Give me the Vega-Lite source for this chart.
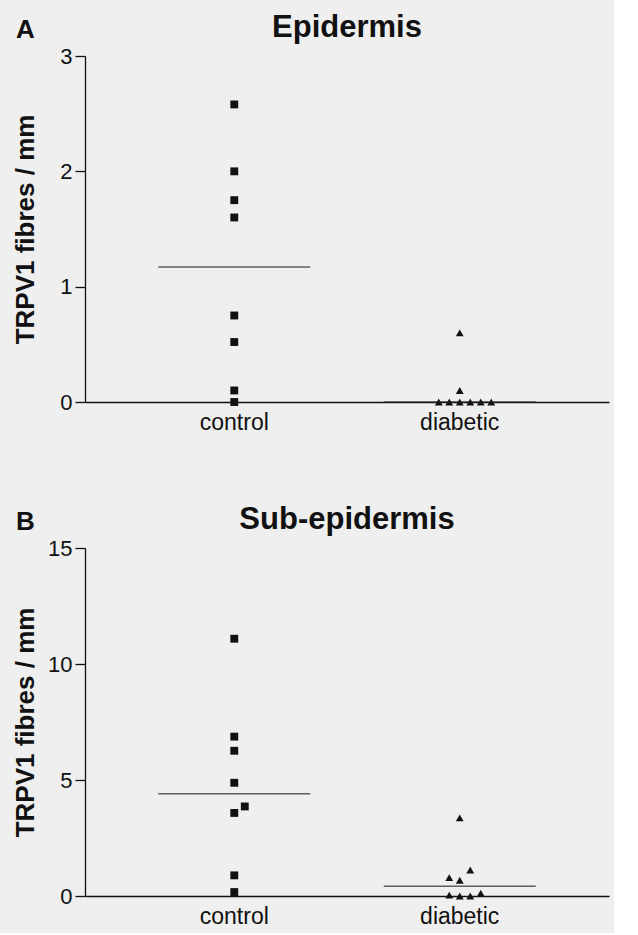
{
  "$schema": "https://vega.github.io/schema/vega-lite/v6.json",
  "background": "#efefef",
  "padding": {"left": 12, "top": 12, "right": 5, "bottom": 5},
  "spacing": 70,
  "config": {
    "font": "Liberation Sans",
    "view": {"stroke": null},
    "axis": {"grid": false, "domainColor": "#111", "tickColor": "#111", "labelColor": "#111", "titleColor": "#111", "labelFont": "Liberation Sans", "titleFont": "Liberation Sans", "domainWidth": 1.3, "tickWidth": 1.3},
    "title": {"font": "Liberation Sans", "color": "#111", "fontWeight": "bold"}
  },
  "datasets": {
    "pts": [
      {"panel": "A", "group": "control", "v": 2.58, "col": 0},
      {"panel": "A", "group": "control", "v": 2.0, "col": 0},
      {"panel": "A", "group": "control", "v": 1.75, "col": 0},
      {"panel": "A", "group": "control", "v": 1.6, "col": 0},
      {"panel": "A", "group": "control", "v": 0.75, "col": 0},
      {"panel": "A", "group": "control", "v": 0.52, "col": 0},
      {"panel": "A", "group": "control", "v": 0.1, "col": 0},
      {"panel": "A", "group": "control", "v": 0.0, "col": 0},
      {"panel": "A", "group": "diabetic", "v": 0.6, "col": 0},
      {"panel": "A", "group": "diabetic", "v": 0.1, "col": 0},
      {"panel": "A", "group": "diabetic", "v": 0.0, "col": -2},
      {"panel": "A", "group": "diabetic", "v": 0.0, "col": -1},
      {"panel": "A", "group": "diabetic", "v": 0.0, "col": 0},
      {"panel": "A", "group": "diabetic", "v": 0.0, "col": 1},
      {"panel": "A", "group": "diabetic", "v": 0.0, "col": 2},
      {"panel": "A", "group": "diabetic", "v": 0.0, "col": 3},
      {"panel": "B", "group": "control", "v": 11.09, "col": 0},
      {"panel": "B", "group": "control", "v": 6.87, "col": 0},
      {"panel": "B", "group": "control", "v": 6.26, "col": 0},
      {"panel": "B", "group": "control", "v": 4.88, "col": 0},
      {"panel": "B", "group": "control", "v": 3.86, "col": 1},
      {"panel": "B", "group": "control", "v": 3.58, "col": 0},
      {"panel": "B", "group": "control", "v": 0.89, "col": 0},
      {"panel": "B", "group": "control", "v": 0.17, "col": 0},
      {"panel": "B", "group": "diabetic", "v": 3.37, "col": 0},
      {"panel": "B", "group": "diabetic", "v": 1.12, "col": 1},
      {"panel": "B", "group": "diabetic", "v": 0.79, "col": -1},
      {"panel": "B", "group": "diabetic", "v": 0.68, "col": 0},
      {"panel": "B", "group": "diabetic", "v": 0.04, "col": -1},
      {"panel": "B", "group": "diabetic", "v": 0.0, "col": 0},
      {"panel": "B", "group": "diabetic", "v": 0.0, "col": 1},
      {"panel": "B", "group": "diabetic", "v": 0.12, "col": 2}
    ],
    "means": [
      {"panel": "A", "group": "control", "v": 1.17},
      {"panel": "A", "group": "diabetic", "v": 0.0},
      {"panel": "B", "group": "control", "v": 4.41},
      {"panel": "B", "group": "diabetic", "v": 0.42}
    ]
  },
  "vconcat": [
    {
      "title": {"text": "A", "anchor": "start", "frame": "bounds", "fontSize": 26, "offset": -31, "dx": 4},
      "vconcat": [
        {
          "width": 524,
          "height": 346,
          "title": {"text": "Epidermis", "fontSize": 31, "anchor": "middle", "offset": 1},
          "encoding": {
            "x": {"field": "group", "type": "nominal", "scale": {"domain": ["control", "diabetic"], "paddingInner": 0, "paddingOuter": 0.162},
                  "axis": {"title": null, "ticks": false, "labelAngle": 0, "labelFontSize": 23, "labelPadding": 9}}
          },
          "layer": [
            {
              "data": {"name": "pts"},
              "transform": [{"filter": "datum.panel === 'A'"}],
              "mark": {"type": "point", "filled": true, "opacity": 1, "color": "#111", "size": 62},
              "encoding": {
                "y": {"field": "v", "type": "quantitative", "scale": {"domain": [0, 3], "nice": false},
                      "axis": {"title": "TRPV1 fibres / mm", "values": [0, 1, 2, 3], "format": "d", "titleFontSize": 26, "labelFontSize": 22, "tickSize": 10, "labelPadding": 3, "minExtent": 38, "maxExtent": 38, "titlePadding": 9}},
                "shape": {"field": "group", "type": "nominal", "scale": {"domain": ["control", "diabetic"], "range": ["square", "triangle-up"]}, "legend": null},
                "xOffset": {"field": "col", "type": "quantitative", "scale": {"domain": [-3, 3], "range": [81.25, 144.25]}}
              }
            },
            {
              "data": {"name": "means"},
              "transform": [{"filter": "datum.panel === 'A'"}],
              "mark": {"type": "tick", "size": 152, "thickness": 1.5, "color": "#222"},
              "encoding": {"y": {"field": "v", "type": "quantitative"}}
            }
          ]
        }
      ]
    },
    {
      "title": {"text": "B", "anchor": "start", "frame": "bounds", "fontSize": 26, "offset": -31, "dx": 4},
      "vconcat": [
        {
          "width": 524,
          "height": 348,
          "title": {"text": "Sub-epidermis", "fontSize": 31, "anchor": "middle", "offset": 1},
          "encoding": {
            "x": {"field": "group", "type": "nominal", "scale": {"domain": ["control", "diabetic"], "paddingInner": 0, "paddingOuter": 0.162},
                  "axis": {"title": null, "ticks": false, "labelAngle": 0, "labelFontSize": 23, "labelPadding": 9}}
          },
          "layer": [
            {
              "data": {"name": "pts"},
              "transform": [{"filter": "datum.panel === 'B'"}],
              "mark": {"type": "point", "filled": true, "opacity": 1, "color": "#111", "size": 62},
              "encoding": {
                "y": {"field": "v", "type": "quantitative", "scale": {"domain": [0, 15], "nice": false},
                      "axis": {"title": "TRPV1 fibres / mm", "values": [0, 5, 10, 15], "format": "d", "titleFontSize": 26, "labelFontSize": 22, "tickSize": 10, "labelPadding": 3, "minExtent": 38, "maxExtent": 38, "titlePadding": 9}},
                "shape": {"field": "group", "type": "nominal", "scale": {"domain": ["control", "diabetic"], "range": ["square", "triangle-up"]}, "legend": null},
                "xOffset": {"field": "col", "type": "quantitative", "scale": {"domain": [-3, 3], "range": [81.25, 144.25]}}
              }
            },
            {
              "data": {"name": "means"},
              "transform": [{"filter": "datum.panel === 'B'"}],
              "mark": {"type": "tick", "size": 152, "thickness": 1.5, "color": "#222"},
              "encoding": {"y": {"field": "v", "type": "quantitative"}}
            }
          ]
        }
      ]
    }
  ]
}
